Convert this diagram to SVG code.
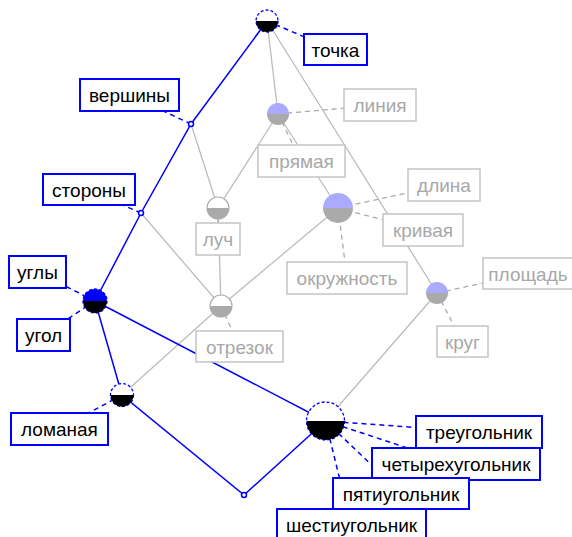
<svg xmlns="http://www.w3.org/2000/svg" width="572" height="537" viewBox="0 0 572 537">
<style>
.eb{stroke:#0000ff;stroke-width:1.5;fill:none}
.eg{stroke:#bcbcbc;stroke-width:1.3;fill:none}
.lb{stroke:#0000ff;stroke-width:1.5;stroke-dasharray:5 4;fill:none}
.lg{stroke:#aaaaaa;stroke-width:1.3;stroke-dasharray:5 4;fill:none}
.bb{fill:#ffffff;stroke:#0000ff;stroke-width:2}
.bg{fill:#ffffff;stroke:#c4c4c4;stroke-width:1.5}
.tb{font-family:"Liberation Sans",Arial,sans-serif;font-size:19px;fill:#000000;text-anchor:middle}
.tg{font-family:"Liberation Sans",Arial,sans-serif;font-size:19px;fill:#a8a8a8;text-anchor:middle}
.ob{fill:#ffffff;stroke:#0000ff;stroke-width:1.3;stroke-dasharray:3 2}
.og{fill:#ffffff;stroke:#b0b0b0;stroke-width:1.2}
.hb{fill:#000000}
.hg{fill:#aaaaaa}
.hl{fill:#aaaaff}
.hu{fill:#0000ff}
.jn{fill:#ffffff;stroke:#0000ff;stroke-width:1.5}
</style>
<g id="connectors">
<path class="eg" d="M267,21 L278,114 M267,21 L437,293 M191,124 L218,208 M278,114 L218,208 M278,114 L338,208 M141,213 L221,306 M218,208 L221,306 M338,208 L221,306 M221,306 L122,395 M437,293 L325.5,421"/>
<path class="eb" d="M267,21 L191,124 L141,213 L95,301 M95,301 L325.5,421 M95,301 L122,395 L244,495 L325.5,421"/>
<path class="lb" d="M267,21 L335,50 M191,124 L129,95 M141,213 L89,190 M95,301 L37,272 M95,301 L43,335 M122,395 L59,429 M325.5,421 L479,432 M325.5,421 L456,464 M325.5,421 L401,493 M325.5,421 L351,525"/>
<path class="lg" d="M278,114 L380,105 M278,114 L301,161 M338,208 L444,185 M338,208 L423,230 M338,208 L347,278 M437,293 L529,273 M437,293 L462,341 M218,208 L218,239 M221,306 L239,346"/>
</g>
<g id="n-tochka" transform="translate(267,21)"><circle class="ob" r="11"/><path class="hb" d="M-11,0 A11,11 0 0 0 11,0 Z"/></g>
<g id="n-ugol" transform="translate(95,301)"><circle class="ob" r="12"/><path class="hu" d="M-12,0 A12,12 0 0 1 12,0 Z"/><path class="hb" d="M-12,0 A12,12 0 0 0 12,0 Z"/></g>
<g id="n-lomanaya" transform="translate(122,395)"><circle class="ob" r="11.5"/><path class="hb" d="M-11.5,0 A11.5,11.5 0 0 0 11.5,0 Z"/></g>
<g id="n-mnogougolnik" transform="translate(325.5,421)"><circle class="ob" r="19"/><path class="hb" d="M-19,0 A19,19 0 0 0 19,0 Z"/></g>
<g id="n-liniya" transform="translate(278,114)"><path class="hl" d="M-11,0 A11,11 0 0 1 11,0 Z"/><path class="hg" d="M-11,0 A11,11 0 0 0 11,0 Z"/></g>
<g id="n-luch" transform="translate(218,208)"><circle class="og" r="11"/><path class="hg" d="M-11,0 A11,11 0 0 0 11,0 Z"/></g>
<g id="n-otrezok" transform="translate(221,306)"><circle class="og" r="11"/><path class="hg" d="M-11,0 A11,11 0 0 0 11,0 Z"/></g>
<g id="n-krivaya" transform="translate(338,208)"><path class="hl" d="M-15,0 A15,15 0 0 1 15,0 Z"/><path class="hg" d="M-15,0 A15,15 0 0 0 15,0 Z"/></g>
<g id="n-krug" transform="translate(437,293)"><path class="hl" d="M-11,0 A11,11 0 0 1 11,0 Z"/><path class="hg" d="M-11,0 A11,11 0 0 0 11,0 Z"/></g>
<g id="n-vershiny" transform="translate(191,124)"><circle class="jn" r="2.5"/></g>
<g id="n-storony" transform="translate(141,213)"><circle class="jn" r="2.5"/></g>
<g id="n-bottom" transform="translate(244,495)"><circle class="jn" r="2.5"/></g>
<g id="labels">
<g id="l-tochka"><rect class="bb" x="304" y="34" width="63" height="31"/><text class="tb" x="335.5" y="56.5">точка</text></g>
<g id="l-vershiny"><rect class="bb" x="80" y="79" width="99" height="32"/><text class="tb" x="129.5" y="102">вершины</text></g>
<g id="l-storony"><rect class="bb" x="43" y="174" width="92" height="31"/><text class="tb" x="89" y="196.5">стороны</text></g>
<g id="l-ugly"><rect class="bb" x="9" y="256" width="57" height="32"/><text class="tb" x="37.5" y="279">углы</text></g>
<g id="l-ugol"><rect class="bb" x="17" y="319" width="53" height="32"/><text class="tb" x="43.5" y="342">угол</text></g>
<g id="l-lomanaya"><rect class="bb" x="11" y="413" width="97" height="32"/><text class="tb" x="59.5" y="436">ломаная</text></g>
<g id="l-treug"><rect class="bb" x="416" y="416" width="126" height="32"/><text class="tb" x="479" y="439">треугольник</text></g>
<g id="l-chetyr"><rect class="bb" x="372" y="448" width="168" height="32"/><text class="tb" x="456" y="471">четырехугольник</text></g>
<g id="l-pyati"><rect class="bb" x="333" y="478" width="136" height="31"/><text class="tb" x="401" y="500.5">пятиугольник</text></g>
<g id="l-shesti"><rect class="bb" x="277" y="509" width="149" height="32"/><text class="tb" x="351.5" y="532">шестиугольник</text></g>
<g id="l-liniya"><rect class="bg" x="344" y="89" width="72" height="32"/><text class="tg" x="380" y="112">линия</text></g>
<g id="l-pryamaya"><rect class="bg" x="258" y="145" width="87" height="32"/><text class="tg" x="301.5" y="168">прямая</text></g>
<g id="l-luch"><rect class="bg" x="196" y="223" width="44" height="32"/><text class="tg" x="218" y="246">луч</text></g>
<g id="l-otrezok"><rect class="bg" x="196" y="331" width="87" height="31"/><text class="tg" x="239.5" y="353.5">отрезок</text></g>
<g id="l-dlina"><rect class="bg" x="408" y="169" width="72" height="32"/><text class="tg" x="444" y="192">длина</text></g>
<g id="l-krivaya"><rect class="bg" x="383" y="214" width="80" height="32"/><text class="tg" x="423" y="237">кривая</text></g>
<g id="l-okruzh"><rect class="bg" x="287" y="262" width="120" height="32"/><text class="tg" x="347" y="285">окружность</text></g>
<g id="l-ploshad"><rect class="bg" x="483" y="258" width="92" height="31"/><text class="tg" x="528" y="280.5">площадь</text></g>
<g id="l-krug"><rect class="bg" x="437" y="326" width="51" height="31"/><text class="tg" x="462.5" y="348.5">круг</text></g>
</g>
</svg>
